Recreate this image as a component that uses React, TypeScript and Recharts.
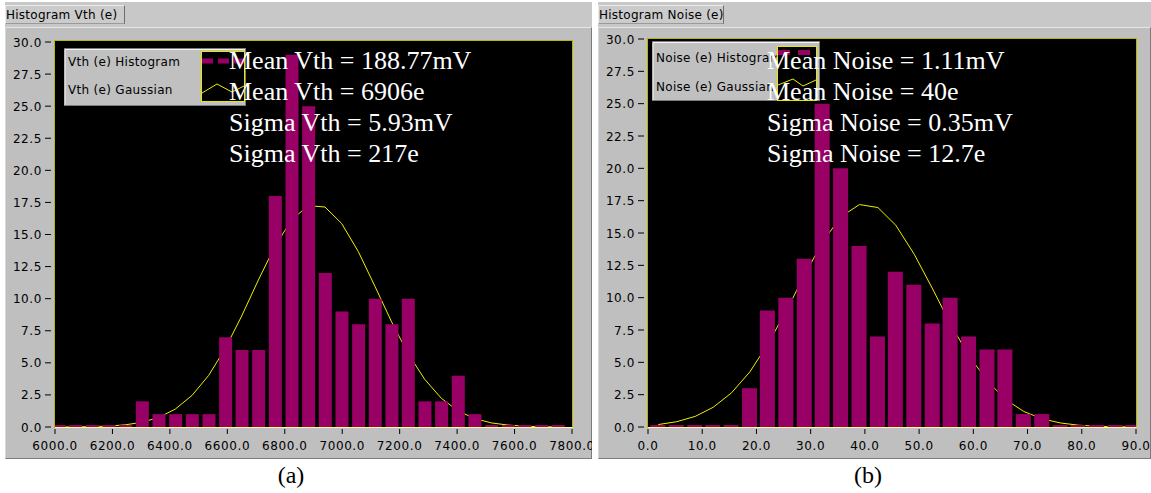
import { ComposedChart, Bar, Line, XAxis, YAxis } from 'recharts';

// histogram (a): threshold in electrons
const vthBins = [6013, 6071, 6129, 6187, 6245, 6303, 6361, 6419, 6477, 6535, 6593, 6650, 6708, 6766, 6824, 6882, 6940, 6998, 7056, 7114, 7172, 7229, 7287, 7345, 7403, 7461, 7519, 7577, 7635, 7693, 7751];
const vthCounts = [0, 0, 0, 0, 0, 2, 1, 1, 1, 1, 7, 6, 6, 18, 29, 25, 12, 9, 8, 10, 8, 10, 2, 2, 4, 1, 0, 0, 0, 0, 0];
const vthGauss = [0.0, 0.01, 0.03, 0.07, 0.17, 0.37, 0.74, 1.4, 2.46, 4.02, 6.13, 8.65, 11.45, 14.09, 16.15, 17.25, 17.14, 15.86, 13.67, 10.96, 8.19, 5.73, 3.72, 2.24, 1.26, 0.66, 0.32, 0.15, 0.06, 0.02, 0.01];
const vthTicks = [6000, 6200, 6400, 6600, 6800, 7000, 7200, 7400, 7600, 7800];
const vthLegend = ['Vth (e) Histogram', 'Vth (e) Gaussian'];
const vthStats = ['Mean Vth = 188.77mV', 'Mean Vth = 6906e', 'Sigma Vth = 5.93mV', 'Sigma Vth = 217e'];

// histogram (b): noise in electrons
const noiseBins = [1.9, 5.3, 8.7, 12.0, 15.4, 18.8, 22.1, 25.5, 28.9, 32.2, 35.6, 39.0, 42.4, 45.7, 49.1, 52.5, 55.8, 59.2, 62.6, 65.9, 69.3, 72.7, 76.1, 79.4, 82.8, 86.2, 89.5];
const noiseCounts = [0, 0, 0, 0, 0, 3, 9, 10, 13, 25, 20, 14, 7, 12, 11, 8, 10, 7, 6, 6, 1, 1, 0, 0, 0, 0, 0];
const noiseGauss = [0.19, 0.41, 0.82, 1.52, 2.64, 4.27, 6.41, 8.99, 11.76, 14.32, 16.26, 17.2, 16.97, 15.6, 13.36, 10.67, 7.94, 5.5, 3.56, 2.14, 1.2, 0.63, 0.31, 0.14, 0.06, 0.02, 0.01];
const noiseTicks = [0, 10, 20, 30, 40, 50, 60, 70, 80, 90];
const noiseLegend = ['Noise (e) Histogram', 'Noise (e) Gaussian'];
const noiseStats = ['Mean Noise = 1.11mV', 'Mean Noise = 40e', 'Sigma Noise = 0.35mV', 'Sigma Noise = 12.7e'];

const countTicks = [0, 2.5, 5, 7.5, 10, 12.5, 15, 17.5, 20, 22.5, 25, 27.5, 30];

const ui = { fontFamily: '"DejaVu Sans", sans-serif', fontSize: 12, letterSpacing: 0.6 };
const serif = { fontFamily: '"Liberation Serif", "Times New Roman", serif' };

const XTick = (props: any) => {
  const { x, y, payload } = props;
  return (
    <g>
      <line x1={x} x2={x} y1={y + 2} y2={y + 7} stroke="#000" />
      <text x={x} y={y + 23} textAnchor="middle" fill="#000" style={ui}>
        {Number(payload.value).toFixed(1)}
      </text>
    </g>
  );
};

const YTick = (props: any) => {
  const { x, y, payload } = props;
  return (
    <g>
      <line x1={x - 10} x2={x - 4} y1={y} y2={y} stroke="#000" />
      <text x={x - 13} y={y + 4.5} textAnchor="end" fill="#000" style={ui}>
        {Number(payload.value).toFixed(1)}
      </text>
    </g>
  );
};

type Box = { x: number; y: number; w: number; h: number };

type PanelProps = {
  x0: number;
  w: number;
  tabW: number;
  title: string;
  bins: number[];
  counts: number[];
  gauss: number[];
  xTicks: number[];
  barSize: number;
  plotL: number;
  plotR: number;
  plotT: number;
  plotB: number;
  borderT: number;
  legend: string[];
  legendBox: Box;
  legendY: number[];
  swatch: Box;
  dash: string;
  dashY: number;
  zig: string;
  stats: string[];
  statsX: number;
  caption: string;
  captionX: number;
};

function HistPanel(p: PanelProps) {
  const data = p.bins.map((b, i) => ({ bin: b, count: p.counts[i], gauss: p.gauss[i] }));
  const chartH = 460;
  const yAxisW = p.plotL - p.x0;
  return (
    <>
      {/* grey frame */}
      <div style={{ position: 'absolute', left: p.x0, top: 2, width: p.w, height: 25, background: '#c8c8c8' }} />
      <div
        style={{
          position: 'absolute', left: p.x0, top: 27, width: p.w, height: 432, boxSizing: 'border-box',
          background: '#bfbfbf', borderTop: '1px solid #e6e6e6', borderRight: '1px solid #7c7c7c',
          borderBottom: '1px solid #7c7c7c', borderLeft: '1px solid #d8d8d8',
        }}
      />
      <div
        style={{
          position: 'absolute', left: p.x0, top: 5, width: p.tabW, height: 19, boxSizing: 'border-box',
          background: '#cbcbcb', borderTop: '1px solid #ececec', borderLeft: '1px solid #ececec',
          borderRight: '1px solid #6e6e6e', borderBottom: '1px solid #9a9a9a',
        }}
      />
      <div style={{ position: 'absolute', left: p.plotL, top: p.borderT, width: p.plotR - p.plotL, height: p.plotB - p.borderT, background: '#000' }} />
      <div style={{ position: 'absolute', left: p.x0, top: 0 }}>
        <ComposedChart
          width={p.w}
          height={chartH}
          data={data}
          margin={{ top: p.plotT, right: p.x0 + p.w - p.plotR, bottom: chartH - p.plotB - 30, left: 0 }}
        >
          <XAxis
            dataKey="bin"
            type="number"
            domain={[p.xTicks[0], p.xTicks[p.xTicks.length - 1]]}
            ticks={p.xTicks}
            allowDataOverflow
            axisLine={false}
            tickLine={false}
            tickSize={0}
            tickMargin={0}
            height={30}
            interval={0}
            tick={<XTick />}
          />
          <YAxis
            type="number"
            domain={[0, 30]}
            ticks={countTicks}
            axisLine={false}
            tickLine={false}
            tickSize={0}
            tickMargin={0}
            width={yAxisW}
            interval={0}
            tick={<YTick />}
          />
          <Line
            dataKey="gauss"
            type="linear"
            stroke="#f0f000"
            strokeWidth={1}
            dot={false}
            zIndex={200}
            isAnimationActive={false}
          />
          <Bar dataKey="count" fill="#990066" barSize={p.barSize} minPointSize={2} isAnimationActive={false} />
        </ComposedChart>
      </div>
      <svg width={1151} height={493} style={{ position: 'absolute', left: 0, top: 0, pointerEvents: 'none' }}>
        <text x={p.x0 + 1} y={18.5} fill="#000" style={{ ...ui, letterSpacing: 0.25 }}>{p.title}</text>
        {/* plot frame */}
        <rect x={p.plotL - 0.5} y={p.borderT + 0.5} width={p.plotR - p.plotL + 1} height={p.plotB - p.borderT} fill="none" stroke="#b8b800" />
        <line x1={p.plotL} x2={p.plotR + 0.5} y1={p.plotB + 0.5} y2={p.plotB + 0.5} stroke="#ffff90" />
        {/* legend */}
        <rect x={p.legendBox.x + 0.5} y={p.legendBox.y + 0.5} width={p.legendBox.w} height={p.legendBox.h} fill="#c0c0c0" stroke="#7c7c7c" />
        <path
          d={`M${p.legendBox.x + 1} ${p.legendBox.y + p.legendBox.h}V${p.legendBox.y + 1.5}H${p.legendBox.x + p.legendBox.w}`}
          fill="none"
          stroke="#f4f4f4"
        />
        <text x={p.legendBox.x + 4} y={p.legendY[0]} fill="#000" style={{ ...ui, letterSpacing: 0.3 }}>{p.legend[0]}</text>
        <text x={p.legendBox.x + 4} y={p.legendY[1]} fill="#000" style={{ ...ui, letterSpacing: 0.3 }}>{p.legend[1]}</text>
        <rect x={p.swatch.x + 0.5} y={p.swatch.y + 0.5} width={p.swatch.w} height={p.swatch.h} fill="#000" stroke="#e8e800" />
        <line x1={p.swatch.x + 1} x2={p.swatch.x + p.swatch.w} y1={p.dashY} y2={p.dashY} stroke="#990066" strokeWidth={5} strokeDasharray={p.dash} />
        <polyline points={p.zig} fill="none" stroke="#f0f000" />
        {/* statistics */}
        {p.stats.map((s, i) => (
          <text key={s} x={p.statsX} y={68.5 + i * 31.2} fill="#fff" fontSize={26} style={serif}>{s}</text>
        ))}
        <text x={p.captionX} y={483} textAnchor="middle" fill="#000" fontSize={24} style={serif}>{p.caption}</text>
      </svg>
    </>
  );
}

export default function App() {
  return (
    <div style={{ position: 'absolute', left: 0, top: 0, width: 1151, height: 493, background: '#fff', overflow: 'hidden' }}>
      <HistPanel
        x0={5}
        w={587}
        tabW={120}
        title="Histogram Vth (e)"
        bins={vthBins}
        counts={vthCounts}
        gauss={vthGauss}
        xTicks={vthTicks}
        barSize={13}
        plotL={55}
        plotR={572}
        plotT={42}
        plotB={427}
        borderT={40}
        legend={vthLegend}
        legendBox={{ x: 64, y: 48, w: 181, h: 57 }}
        legendY={[66, 94]}
        swatch={{ x: 201, y: 51, w: 43, h: 50 }}
        dash="11 5"
        dashY={61}
        zig="202,93 217,84 232,92 244,86"
        stats={vthStats}
        statsX={229}
        caption="(a)"
        captionX={291}
      />
      <HistPanel
        x0={598}
        w={553}
        tabW={126}
        title="Histogram Noise (e)"
        bins={noiseBins}
        counts={noiseCounts}
        gauss={noiseGauss}
        xTicks={noiseTicks}
        barSize={15}
        plotL={648}
        plotR={1136}
        plotT={39}
        plotB={427}
        borderT={38}
        legend={noiseLegend}
        legendBox={{ x: 652, y: 41, w: 167, h: 59 }}
        legendY={[61.5, 91]}
        swatch={{ x: 777, y: 46, w: 39, h: 54 }}
        dash="12 8"
        dashY={52.5}
        zig="778,85 793,79 803,86 816,80"
        stats={noiseStats}
        statsX={767}
        caption="(b)"
        captionX={868}
      />
    </div>
  );
}
